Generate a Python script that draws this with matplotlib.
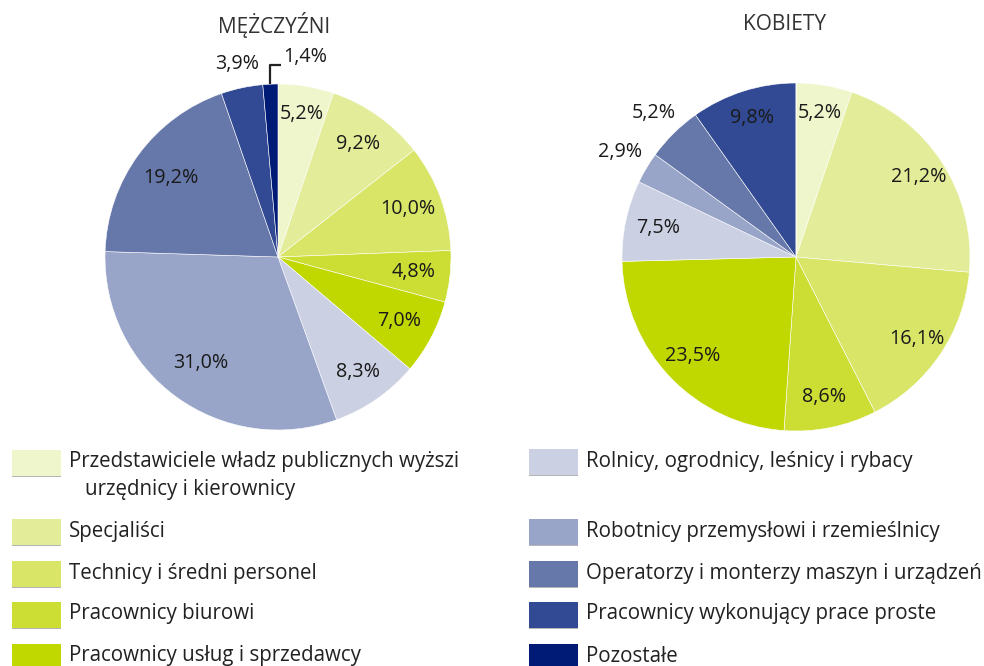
import numpy as np
import matplotlib.pyplot as plt
from matplotlib.patches import Rectangle

plt.rcParams['font.family'] = ['Open Sans', 'DejaVu Sans']

categories = [
    'Przedstawiciele władz publicznych wyższi\nurzędnicy i kierownicy',
    'Specjaliści',
    'Technicy i średni personel',
    'Pracownicy biurowi',
    'Pracownicy usług i sprzedawcy',
    'Rolnicy, ogrodnicy, leśnicy i rybacy',
    'Robotnicy przemysłowi i rzemieślnicy',
    'Operatorzy i monterzy maszyn i urządzeń',
    'Pracownicy wykonujący prace proste',
    'Pozostałe',
]
men = [5.2, 9.2, 10.0, 4.8, 7.0, 8.3, 31.0, 19.2, 3.9, 1.4]
women = [5.2, 21.2, 16.1, 8.6, 23.5, 7.5, 2.9, 5.2, 9.8, 0.0]

colors = ['#F0F6CC', '#E3EC98', '#D8E566', '#CCDE33', '#C0D700',
          '#CBD0E3', '#98A5C9', '#6677AA', '#324A93', '#001B76']

# radial position of each label (fraction of radius), None = leader line
men_lab_r = [0.84, 0.80, 0.80, 0.79, 0.79, 0.81, 0.76, 0.77, 1.14, None]
women_lab_r = [0.84, 0.84, 0.84, 0.82, 0.82, 0.81, 1.18, 1.16, 0.84, 0]

W, H = 984, 666
fig = plt.figure(figsize=(W / 100, H / 100), dpi=100)
txt = '#1a1a1a'
lab_fs = 14.2
leg_fs = 14.8


def fmt(v):
    return ('%.1f%%' % v).replace('.', ',')


def draw_pie(cx, cy, r, vals, lab_r, title, title_x):
    half = 200
    ax = fig.add_axes([(cx - half) / W, (H - cy - half) / H, 2 * half / W, 2 * half / H])
    lim = half / r
    wedges, _ = ax.pie(vals, colors=colors, startangle=90, counterclock=False,
                       radius=1, wedgeprops=dict(edgecolor='white', linewidth=0.4))
    ax.set_xlim(-lim, lim)
    ax.set_ylim(-lim, lim)
    ax.set_aspect('equal')
    ax.axis('off')
    for w, v, lr in zip(wedges, vals, lab_r):
        if v <= 0:
            continue
        ang = np.deg2rad((w.theta1 + w.theta2) / 2)
        if lr is None:
            x0, y0 = np.cos(ang), np.sin(ang)
            y1 = 1.11
            ax.plot([x0, x0, x0 + 0.06], [y0, y1, y1], color='#222222', lw=1.6,
                    solid_capstyle='butt')
            ax.text(x0 + 0.075, y1 + 0.045, fmt(v), ha='left', va='center',
                    fontsize=lab_fs, color=txt)
            continue
        ax.text(lr * np.cos(ang), lr * np.sin(ang), fmt(v), ha='center', va='center',
                fontsize=lab_fs, color=txt)
    fig.text(title_x / W, 1 - 25 / H, title, ha='center', va='center',
             fontsize=15, color='#333333')


draw_pie(278, 257, 173, men, men_lab_r, 'MĘŻCZYŹNI', 274)
draw_pie(796, 257, 174, women, women_lab_r, 'KOBIETY', 785)

# legend
left_rows = [462, 531, 573, 614, 656]
right_rows = [461, 531, 573, 614, 656]
for i, lab in enumerate(categories):
    if i < 5:
        x0, y = 12, left_rows[i]
    else:
        x0, y = 529, right_rows[i - 5]
    fig.patches.append(Rectangle((x0 / W, 1 - (y + 14) / H), 49 / W, 26 / H,
                                 transform=fig.transFigure, facecolor=colors[i],
                                 edgecolor='none'))
    fig.patches.append(Rectangle((x0 / W, 1 - (y + 15) / H), 49 / W, 1.5 / H,
                                 transform=fig.transFigure, facecolor='#b5b5b5',
                                 edgecolor='none'))
    lines = lab.split('\n')
    fig.text((x0 + 57) / W, 1 - y / H, lines[0], ha='left', va='center',
             fontsize=leg_fs, color='#222222')
    if len(lines) > 1:
        fig.text((x0 + 73) / W, 1 - (y + 28) / H, lines[1], ha='left', va='center',
                 fontsize=leg_fs, color='#222222')

fig.savefig('out.png', dpi=100)
